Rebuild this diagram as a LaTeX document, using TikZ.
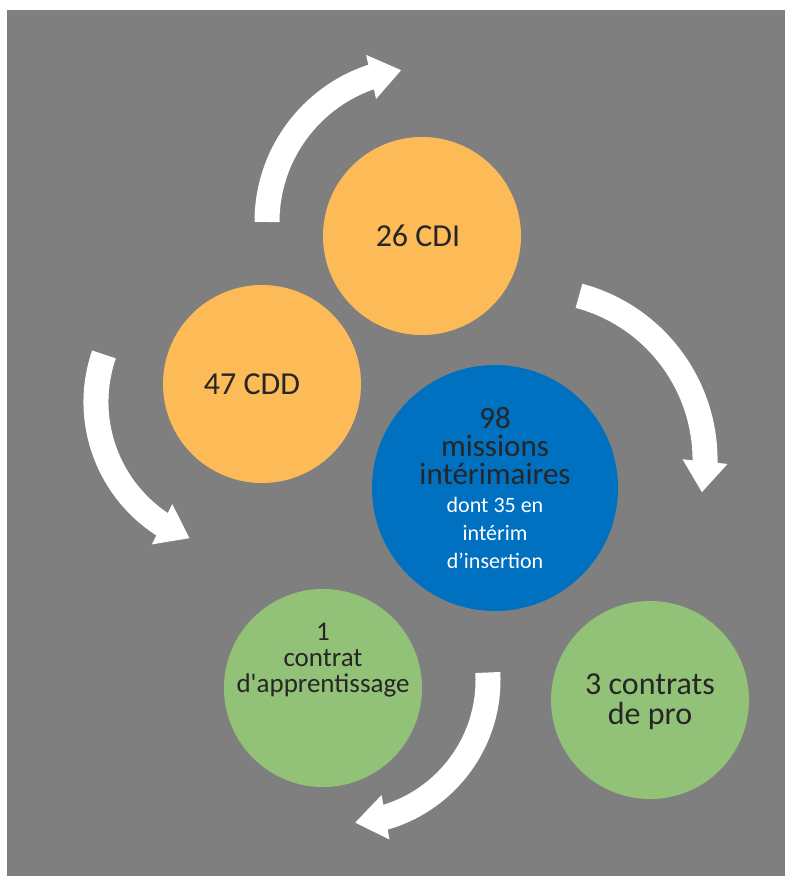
\documentclass[tikz,border=0pt]{standalone}
\usepackage{fontspec}
\setmainfont{Carlito}
\usetikzlibrary{arrows.meta,bending}
\definecolor{fondgris}{HTML}{7F7F7F}
\definecolor{orangecdi}{HTML}{FDBB58}
\definecolor{bleuinterim}{HTML}{0070C0}
\definecolor{vertcontrat}{HTML}{92C178}
\definecolor{textegris}{HTML}{262626}
\tikzstyle{bulle} = [circle, inner sep=0pt, minimum size=198pt]
\tikzstyle{legende} = [align=center, text=textegris, inner sep=0pt]
\tikzstyle{fleche} = [draw=white, line width=25pt, -{Triangle[length=31pt, width=43pt]}]
\newcommand{\taille}[2]{\fontsize{#1}{#2}\selectfont}

\begin{document}
\begin{tikzpicture}[x=1pt, y=-1pt]
\useasboundingbox (0,0) rectangle (785,876);
\fill[white] (0,0) rectangle (785,876);
\fill[fondgris] (7,10) rectangle (785,876);

% les bulles
\node[bulle, fill=orangecdi] (cdi) at (422,236) {};
\node[bulle, fill=orangecdi] (cdd) at (262,384) {};
\node[bulle, fill=bleuinterim, minimum size=246pt] (missions) at (495,488) {};
\node[bulle, fill=vertcontrat] (apprentissage) at (323,688) {};
\node[bulle, fill=vertcontrat] (pro) at (650,700) {};

% les textes
\node[legende, font=\taille{32}{30}] (cdi-txt) at ([xshift=-4pt]cdi.center) {26 CDI};
\node[legende, font=\taille{32}{30}] (cdd-txt) at ([xshift=-10pt]cdd.center) {47 CDD};
\node[legende, font=\taille{31}{28}] (missions-txt) at (missions.center) {%
    98\\missions\\intérimaires\\
    {\color{white}\taille{22}{28}dont 35 en}\\
    {\color{white}\taille{22}{28}intérim}\\
    {\color{white}\taille{22}{28}d’insertion}};
\node[legende, font=\taille{27}{26}] (apprentissage-txt) at ([yshift=28pt]apprentissage.center) {1\\contrat\\d\textquotesingle apprentissage};
\node[legende, font=\taille{32}{30}] (pro-txt) at ([yshift=-2pt]pro.center) {3 contrats\\de pro};

% les fleches
\coordinate (centre-a) at (420,222);
\coordinate (centre-b) at (535,460);
\coordinate (centre-c) at (242,402);
\coordinate (centre-d) at (345,680);
\draw[fleche] ([shift={(180:153pt)}]centre-a) arc[start angle=180, end angle=97, radius=153pt];
\draw[fleche] ([shift={(75:170pt)}]centre-b) arc[start angle=75, end angle=-11, radius=170pt];
\draw[fleche] ([shift={(161:146pt)}]centre-c) arc[start angle=161, end angle=249, radius=146pt];
\draw[fleche] ([shift={(3:143pt)}]centre-d) arc[start angle=3, end angle=-86, radius=143pt];
\end{tikzpicture}
\end{document}
